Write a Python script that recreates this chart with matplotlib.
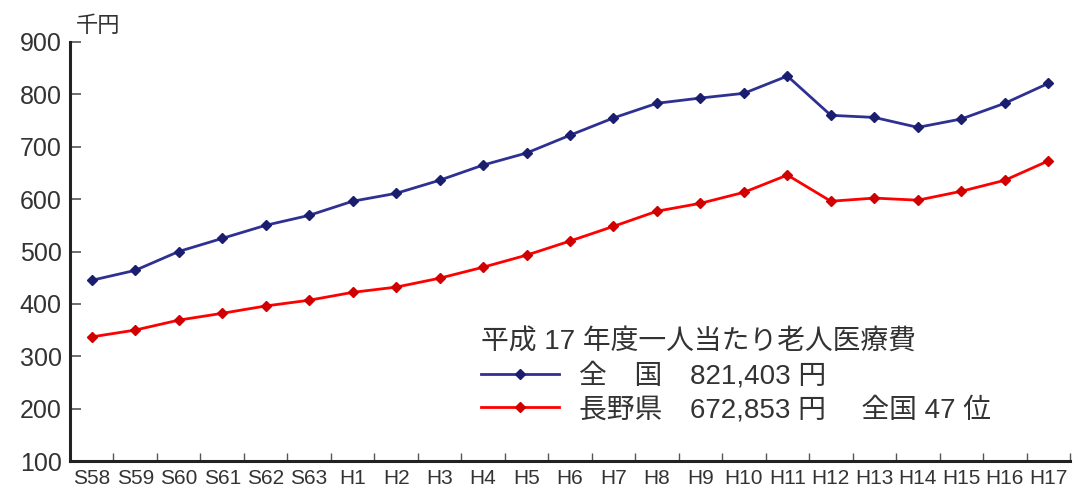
import matplotlib
matplotlib.use('Agg')
import matplotlib.pyplot as plt

plt.rcParams['font.family'] = ['Liberation Sans', 'Noto Sans CJK JP', 'DejaVu Sans']

years = ['S58', 'S59', 'S60', 'S61', 'S62', 'S63', 'H1', 'H2', 'H3', 'H4', 'H5', 'H6',
         'H7', 'H8', 'H9', 'H10', 'H11', 'H12', 'H13', 'H14', 'H15', 'H16', 'H17']
zenkoku = [445, 464, 500, 525, 550, 569, 596, 611, 636, 665, 688, 722,
           755, 783, 793, 802, 835, 760, 756, 737, 753, 783, 821]
nagano = [337, 350, 369, 382, 396, 407, 422, 432, 449, 470, 493, 520,
          548, 577, 592, 613, 646, 596, 602, 598, 615, 636, 673]
yticks = [100, 200, 300, 400, 500, 600, 700, 800, 900]

TXT = '#333333'
x = list(range(len(years)))

fig = plt.figure(figsize=(10.77, 4.97), dpi=100)
ax = fig.add_axes([0.065, 0.0724, 0.9285, 0.8431])

l1, = ax.plot(x, zenkoku, color='#2E3192', lw=2, marker='D', ms=5,
              mfc='#1B1D6E', mec='#1B1D6E')
l2, = ax.plot(x, nagano, color='#FF0000', lw=2, marker='D', ms=5,
              mfc='#D00000', mec='#D00000')

ax.set_xlim(-0.5, len(years) - 0.5)
ax.set_ylim(100, 900)
ax.set_yticks(yticks)
ax.set_yticklabels([str(v) for v in yticks], fontsize=18, color=TXT)
ax.set_xticks([i + 0.5 for i in x])
ax.set_xticklabels([])
ax.set_xticks(x, minor=True)
ax.set_xticklabels(years, minor=True, fontsize=15, color=TXT)
ax.tick_params(axis='x', which='minor', length=0, pad=6)
ax.tick_params(axis='x', which='major', direction='in', length=6, width=1, color='#555555')
ax.tick_params(axis='y', direction='in', length=8, width=1.2, color='#555555', pad=6)

for s in ['top', 'right']:
    ax.spines[s].set_visible(False)
ax.spines['left'].set_linewidth(2.2)
ax.spines['bottom'].set_linewidth(2.2)
ax.spines['left'].set_color('#222222')
ax.spines['bottom'].set_color('#222222')

fig.text(0.07, 0.948, '千円', fontsize=16, color=TXT, family=['Noto Sans CJK JP'],
         va='center', ha='left')

leg = ax.legend([l1, l2],
                ['全\u3000国\u3000821,403 円',
                 '長野県\u3000672,853 円\u3000 全国 47 位'],
                title='平成 17 年度一人当たり老人医療費',
                loc='upper left', bbox_to_anchor=(0.447, 0.337), bbox_transform=fig.transFigure,
                frameon=False, fontsize=20, title_fontsize=20, alignment='left',
                handlelength=2.8, handletextpad=0.7, labelspacing=0.25,
                borderpad=0, borderaxespad=0)
for t in leg.get_texts() + [leg.get_title()]:
    t.set_color(TXT)
    t.set_family(['Liberation Sans', 'Noto Sans CJK JP'])

fig.savefig('out.png', dpi=100)
